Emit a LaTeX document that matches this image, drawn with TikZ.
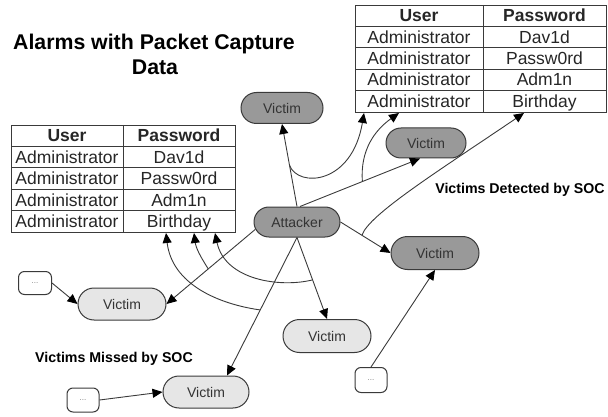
\documentclass[tikz,border=0pt]{standalone}
\usepackage{fontspec}
\setmainfont{Liberation Sans}
\usetikzlibrary{arrows.meta,shapes.misc}
\definecolor{dk}{HTML}{999999}
\definecolor{lt}{HTML}{E6E6E6}
\definecolor{edgec}{HTML}{3A3A3A}
\definecolor{txt}{HTML}{333333}
\begin{document}
\begin{tikzpicture}[x=1pt,y=-1pt,
 vic/.style={rounded rectangle, draw=edgec, line width=1pt, minimum width=86pt, minimum height=32pt, inner sep=0pt, font=\fontsize{14}{16}\selectfont, text=txt},
 dark/.style={vic, fill=dk},
 light/.style={vic, fill=lt},
 dots/.style={draw=edgec, line width=1pt, rounded corners=6pt, minimum width=32pt, minimum height=24pt, inner sep=0pt, fill=white, font=\fontsize{8}{9}\selectfont, text=gray},
 conn/.style={draw=edgec, line width=0.9pt, -{Triangle[length=10pt,width=9pt,color=black]}},
 tframe/.style={draw=edgec, line width=1pt, inner sep=0pt, anchor=north west},
 grid/.style={draw=edgec, line width=1pt},
 cell/.style={font=\fontsize{17.5}{20}\selectfont, text=black!85, inner sep=0pt, anchor=base},
 head/.style={cell, font=\fontsize{17.5}{20}\selectfont\bfseries},
 lbl/.style={font=\fontsize{14.2}{16}\selectfont\bfseries, inner sep=0pt}
]
\useasboundingbox (0,0) rectangle (608,417);

% title
\node[font=\fontsize{21.3}{25}\selectfont\bfseries, anchor=base, inner sep=0pt] (t1) at (154,50) {Alarms with Packet Capture};
\node[font=\fontsize{21.3}{25}\selectfont\bfseries, anchor=base, inner sep=0pt] (t2) at (155,75) {Data};

% left table
\node[tframe, minimum width=224pt, minimum height=107pt] (tL) at (11,125) {};
\foreach \i in {1,...,4} \draw[grid] (11,{125+21.4*\i}) -- (235,{125+21.4*\i});
\draw[grid] (123,125) -- (123,232);
\node[head] (tLh1) at (67,141.8) {User};
\node[head] (tLh2) at (179,141.8) {Password};
\foreach \p [count=\i] in {Dav1d,Passw0rd,Adm1n,Birthday} {
  \node[cell] (tLa\i) at (67,{125+21.4*\i+16.8}) {Administrator};
  \node[cell] (tLb\i) at (179,{125+21.4*\i+16.8}) {\p};
}

% right table
\node[tframe, minimum width=251pt, minimum height=107pt] (tR) at (355,5) {};
\foreach \i in {1,...,4} \draw[grid] (355,{5+21.4*\i}) -- (606,{5+21.4*\i});
\draw[grid] (483,5) -- (483,112);
\node[head] (tRh1) at (419,21.8) {User};
\node[head] (tRh2) at (544.5,21.8) {Password};
\foreach \p [count=\i] in {Dav1d,Passw0rd,Adm1n,Birthday} {
  \node[cell] (tRa\i) at (419,{5+21.4*\i+16.8}) {Administrator};
  \node[cell] (tRb\i) at (544.5,{5+21.4*\i+16.8}) {\p};
}

% nodes
\node[dark, minimum width=82pt, minimum height=31pt] (vT) at (282,108) {Victim};
\node[dark, minimum width=80pt, minimum height=30pt] (vRM) at (426,143) {Victim};
\node[dark, minimum height=30pt] (att) at (297,222) {Attacker};
\node[dark, minimum width=88pt, minimum height=33pt] (vR) at (435,253) {Victim};
\node[light, minimum width=88pt, minimum height=33pt] (vLM) at (327,336) {Victim};
\node[light, minimum width=88pt] (vL) at (122,304) {Victim};
\node[light] (vB) at (206,392) {Victim};
\node[dots, minimum width=33pt, minimum height=23pt] (d1) at (35,283) {...};
\node[dots] (d2) at (83,400) {...};
\node[dots, minimum height=25pt] (d3) at (371,380) {...};

% labels
\node[lbl] (lblD) at (520,190) {Victims Detected by SOC};
\node[lbl] (lblM) at (114,359) {Victims Missed by SOC};

% attacker connections
\draw[conn] (att.north) -- (vT.south) coordinate[pos=0.5] (m1);
\draw[conn] ([shift={(3,0)}]att.north) -- ([shift={(-6,0)}]vRM.south) coordinate[pos=0.52] (m2);
\draw[conn] (att.east) -- (vR.west) coordinate[pos=0.43] (m3);
\draw[conn] (att.190) -- (vL.east) coordinate[pos=0.53] (m4);
\draw[conn] (att.south) -- (vLM.north) coordinate[pos=0.52] (m5);
\draw[conn] (att.south) -- ([shift={(21,0)}]vB.north) coordinate[pos=0.525] (m6);

% packet capture curves
\draw[conn] (m1) .. controls (298,188) and (352,185) .. ([shift={(9,0)}]tR.south west);
\draw[conn] (m2) .. controls (360,150) and (375,130) .. ([shift={(44,0)}]tR.south west);
\draw[conn] (m3) .. controls (368,215) and (440,170) .. ([shift={(169,0)}]tR.south west);
\draw[conn] (m4) .. controls (200,256) and (196,248) .. ([shift={(183,0)}]tL.south west);
\draw[conn] (m5) .. controls (280,288) and (225,280) .. ([shift={(204,0)}]tL.south west);
\draw[conn] (m6) .. controls (218,304) and (172,284) .. ([shift={(155,0)}]tL.south west);

% other sources
\draw[conn] (d1.east) -- (vL.west);
\draw[conn] (d2.east) -- (vB.west);
\draw[conn] (d3.north) -- (vR.south);
\end{tikzpicture}
\end{document}
